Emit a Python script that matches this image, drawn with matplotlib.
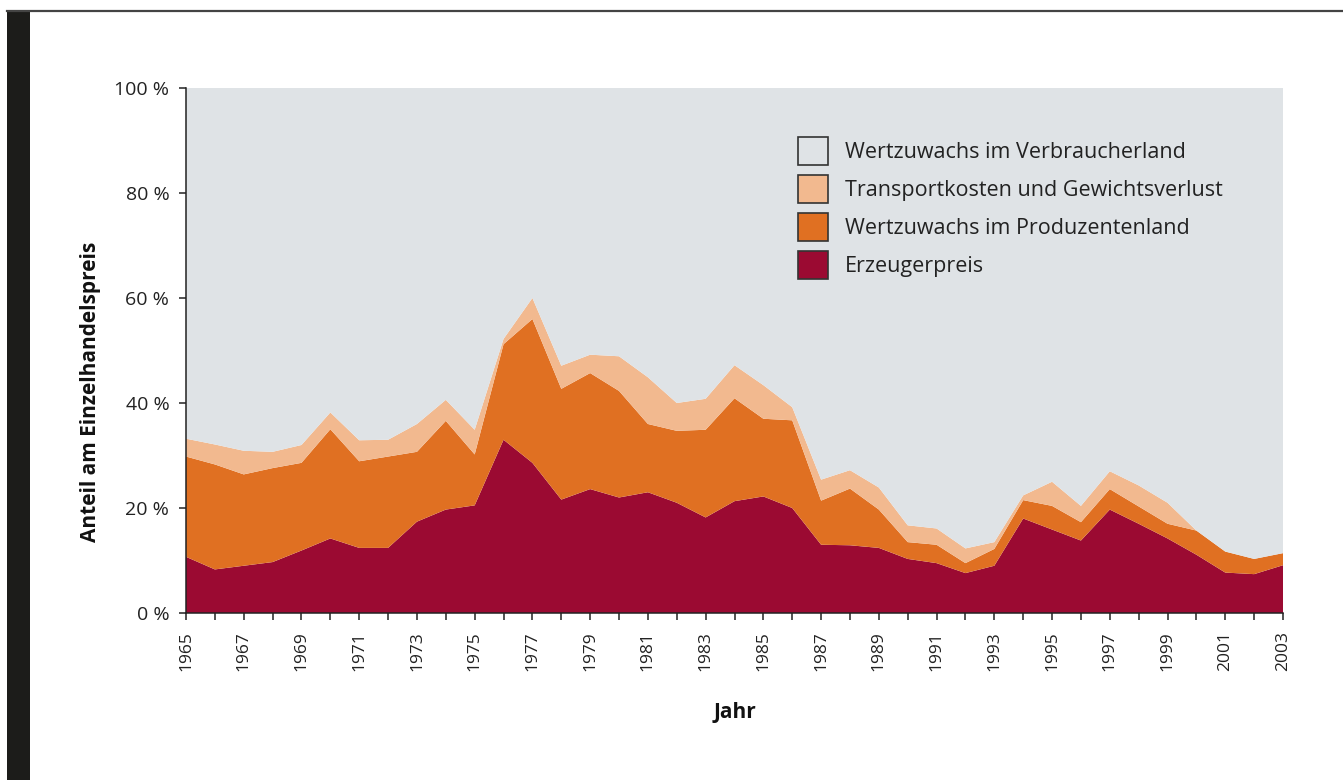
import matplotlib
matplotlib.use("Agg")
import matplotlib.pyplot as plt
from matplotlib.patches import Patch, Rectangle
from matplotlib.lines import Line2D

plt.rcParams['font.family'] = ['Open Sans', 'DejaVu Sans']

years = list(range(1965, 2004))

erzeugerpreis = [10.7, 8.3, 9.0, 9.7, 11.9, 14.2, 12.4, 12.4, 17.4, 19.7,
                 20.5, 33.0, 28.6, 21.6, 23.6, 22.0, 23.0, 21.0, 18.2, 21.3,
                 22.2, 20.0, 13.0, 12.9, 12.4, 10.3, 9.5, 7.6, 9.0, 18.0,
                 15.9, 13.8, 19.7, 17.0, 14.2, 11.1, 7.7, 7.4, 9.1]
produzentenland = [19.1, 20.0, 17.4, 17.9, 16.7, 20.8, 16.5, 17.4, 13.3, 16.9,
                   9.7, 18.2, 27.4, 21.1, 22.1, 20.3, 13.0, 13.7, 16.7, 19.6,
                   14.8, 16.7, 8.4, 10.8, 7.3, 3.2, 3.5, 1.9, 3.2, 3.5,
                   4.5, 3.5, 3.9, 3.3, 2.8, 4.6, 4.0, 2.9, 2.3]
transport = [3.4, 3.8, 4.5, 3.1, 3.4, 3.2, 4.0, 3.2, 5.3, 4.0,
             4.7, 1.0, 4.0, 4.4, 3.5, 6.6, 8.9, 5.3, 5.9, 6.3,
             6.4, 2.5, 4.0, 3.5, 4.2, 3.2, 3.1, 2.8, 1.3, 0.9,
             4.6, 3.1, 3.4, 4.0, 4.0, 0.0, 0.0, 0.0, 0.0]
verbraucherland = [66.8, 67.9, 69.1, 69.3, 68.0, 61.8, 67.1, 67.0, 64.0, 59.4,
                   65.1, 47.8, 40.0, 52.9, 50.8, 51.1, 55.1, 60.0, 59.2, 52.8,
                   56.6, 60.8, 74.6, 72.8, 76.1, 83.3, 83.9, 87.7, 86.5, 77.6,
                   75.0, 79.6, 73.0, 75.7, 79.0, 84.3, 88.3, 89.7, 88.6]

labels = ["Erzeugerpreis", "Wertzuwachs im Produzentenland",
          "Transportkosten und Gewichtsverlust", "Wertzuwachs im Verbraucherland"]
colors = ["#9B0A32", "#E07022", "#F2B98F", "#DFE3E6"]

yticks = [0, 20, 40, 60, 80, 100]
ytick_labels = ["0 %", "20 %", "40 %", "60 %", "80 %", "100 %"]
xtick_labels_years = list(range(1965, 2004, 2))

fig = plt.figure(figsize=(13.43, 7.80), dpi=100)
fig.patch.set_facecolor("white")

# decorative frame: dark left bar and top rule
fig.add_artist(Rectangle((7 / 1343, 0), 23 / 1343, 1 - 11 / 780,
                         transform=fig.transFigure, facecolor="#1C1C1A",
                         edgecolor="none"))
fig.add_artist(Line2D([7 / 1343, 1], [1 - 11 / 780, 1 - 11 / 780],
                      transform=fig.transFigure, color="#444444", lw=1.6))

ax = fig.add_axes([186 / 1343, 1 - 613 / 780, 1097 / 1343, 525 / 780])
ax.stackplot(years, erzeugerpreis, produzentenland, transport, verbraucherland,
             colors=colors, linewidth=0)

ax.set_xlim(1965, 2003)
ax.set_ylim(0, 100)

ax.set_yticks(yticks)
ax.set_yticklabels(ytick_labels)
ax.set_xticks(years)
ax.set_xticklabels([str(y) if y in xtick_labels_years else "" for y in years],
                   rotation=90)
ax.tick_params(axis="both", direction="out", length=5, width=1.1,
               color="#222222", labelcolor="#222222")
ax.tick_params(axis="x", pad=8, labelsize=12.5)
ax.tick_params(axis="y", pad=7, labelsize=14)

for s in ["top", "right"]:
    ax.spines[s].set_visible(False)
for s in ["left", "bottom"]:
    ax.spines[s].set_color("#222222")
    ax.spines[s].set_linewidth(1.1)

ax.set_ylabel("Anteil am Einzelhandelspreis", fontsize=15, fontweight="bold",
              color="#111111")
ax.yaxis.set_label_coords((101 - 186) / 1097, (613 - 392) / 525)
ax.set_xlabel("Jahr", fontsize=15, fontweight="bold", color="#111111",
              labelpad=22)

handles = [Patch(facecolor=c, edgecolor="#333333", linewidth=1.2) for c in colors]
leg = ax.legend(handles[::-1], labels[::-1], loc="upper left",
                bbox_to_anchor=((798 - 186) / 1097, (613 - 137) / 525),
                frameon=False, fontsize=15.5, handlelength=1.4, handleheight=1.62,
                labelspacing=0.47, handletextpad=0.78, borderpad=0,
                borderaxespad=0)
for t in leg.get_texts():
    t.set_color("#222222")

fig.savefig("out.png", dpi=100)
